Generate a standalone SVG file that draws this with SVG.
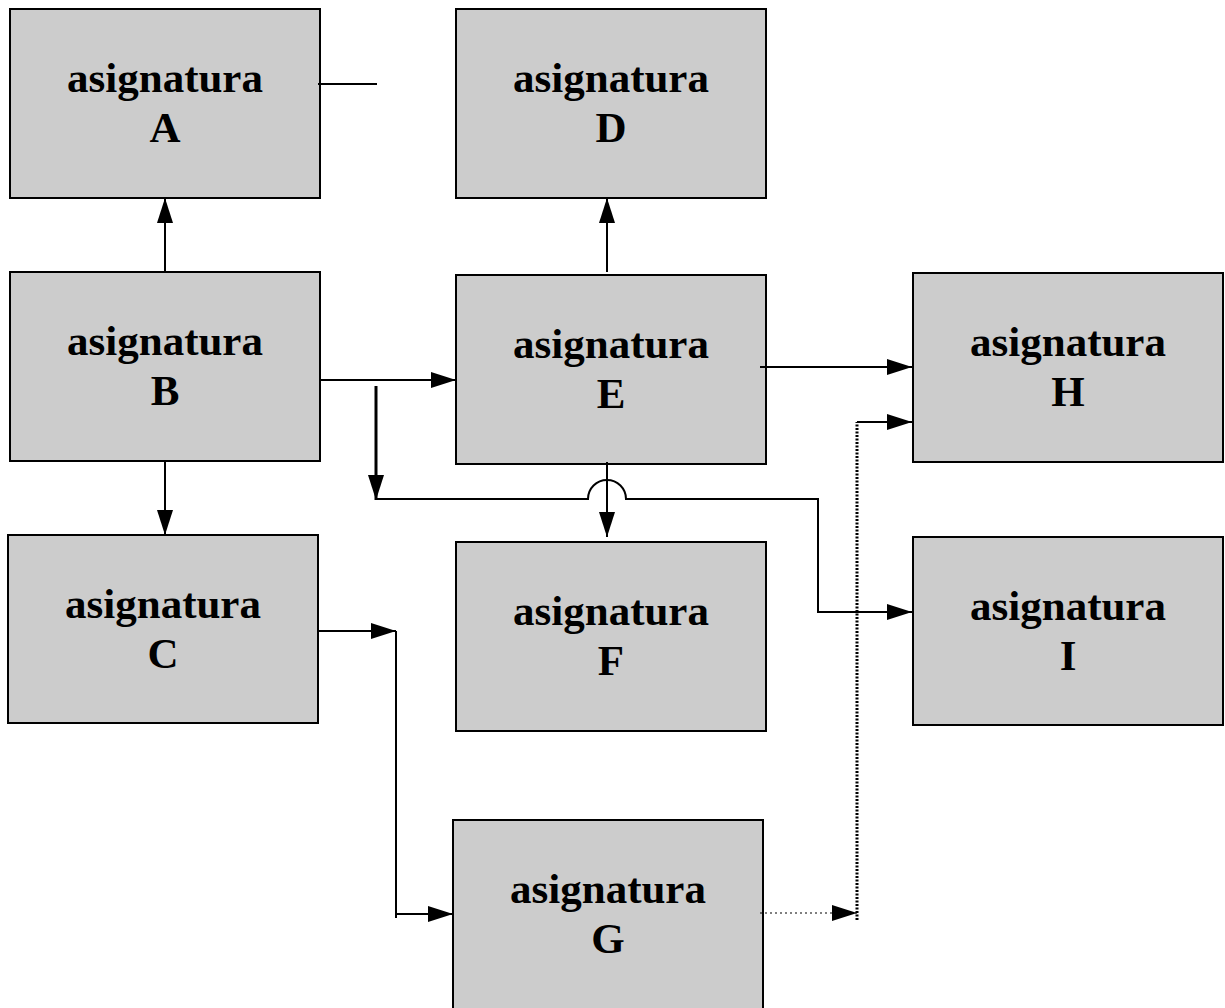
<svg xmlns="http://www.w3.org/2000/svg" width="1225" height="1008" viewBox="0 0 1225 1008">
<style>
.box{fill:#cccccc;stroke:#000;stroke-width:2}
.lbl{font-family:"Liberation Serif","Times New Roman",serif;font-weight:bold;font-size:43px;text-anchor:middle;fill:#000}
.c{fill:none;stroke:#000;stroke-width:2}
.thick{fill:none;stroke:#000;stroke-width:3}
.dot{fill:none;stroke:#000;stroke-width:3;stroke-dasharray:2 1.5}
.dotthin{fill:none;stroke:#000;stroke-width:1.2;stroke-dasharray:2 3}
</style>
<defs>
<marker id="ah" markerUnits="userSpaceOnUse" markerWidth="26" markerHeight="16" refX="25" refY="8" orient="auto">
<path d="M0,0 L25,8 L0,16 z" fill="#000"/>
</marker>
</defs>
<g id="nodeA"><rect class="box" x="10" y="9" width="310" height="189"/><text class="lbl" x="165" y="92">asignatura</text><text class="lbl" x="165" y="142">A</text></g>
<g id="nodeD"><rect class="box" x="456" y="9" width="310" height="189"/><text class="lbl" x="611" y="92">asignatura</text><text class="lbl" x="611" y="142">D</text></g>
<g id="nodeB"><rect class="box" x="10" y="272" width="310" height="189"/><text class="lbl" x="165" y="355">asignatura</text><text class="lbl" x="165" y="405">B</text></g>
<g id="nodeE"><rect class="box" x="456" y="275" width="310" height="189"/><text class="lbl" x="611" y="358">asignatura</text><text class="lbl" x="611" y="408">E</text></g>
<g id="nodeH"><rect class="box" x="913" y="273" width="310" height="189"/><text class="lbl" x="1068" y="356">asignatura</text><text class="lbl" x="1068" y="406">H</text></g>
<g id="nodeC"><rect class="box" x="8" y="535" width="310" height="188"/><text class="lbl" x="163" y="618">asignatura</text><text class="lbl" x="163" y="668">C</text></g>
<g id="nodeF"><rect class="box" x="456" y="542" width="310" height="189"/><text class="lbl" x="611" y="625">asignatura</text><text class="lbl" x="611" y="675">F</text></g>
<g id="nodeI"><rect class="box" x="913" y="537" width="310" height="188"/><text class="lbl" x="1068" y="620">asignatura</text><text class="lbl" x="1068" y="670">I</text></g>
<g id="nodeG"><rect class="box" x="453" y="820" width="310" height="200"/><text class="lbl" x="608" y="903">asignatura</text><text class="lbl" x="608" y="953">G</text></g>
<g id="connectors">
<path class="c" d="M165,272 V198" marker-end="url(#ah)"/>
<path class="c" d="M318,84 H377"/>
<path class="c" d="M607,272 V198" marker-end="url(#ah)"/>
<path class="c" d="M165,461 V535" marker-end="url(#ah)"/>
<path class="c" d="M320,380 H456" marker-end="url(#ah)"/>
<path class="c" d="M760,367 H912" marker-end="url(#ah)"/>
<path class="c" d="M607,462 V537" marker-end="url(#ah)"/>
<path class="thick" d="M376,386 V500" marker-end="url(#ah)"/>
<path class="c" d="M376,499 H588 A19,19 0 0 1 626,499 H818 V612 H912" marker-end="url(#ah)"/>
<path class="c" d="M318,631 H396" marker-end="url(#ah)"/>
<path class="c" d="M396,631 V918 M396,914 H453" marker-end="url(#ah)"/>
<path class="dotthin" d="M760,913 H857" marker-end="url(#ah)"/>
<path class="dot" d="M857,920 V422"/>
<path class="c" d="M857,422 H912" marker-end="url(#ah)"/>
</g>
</svg>
